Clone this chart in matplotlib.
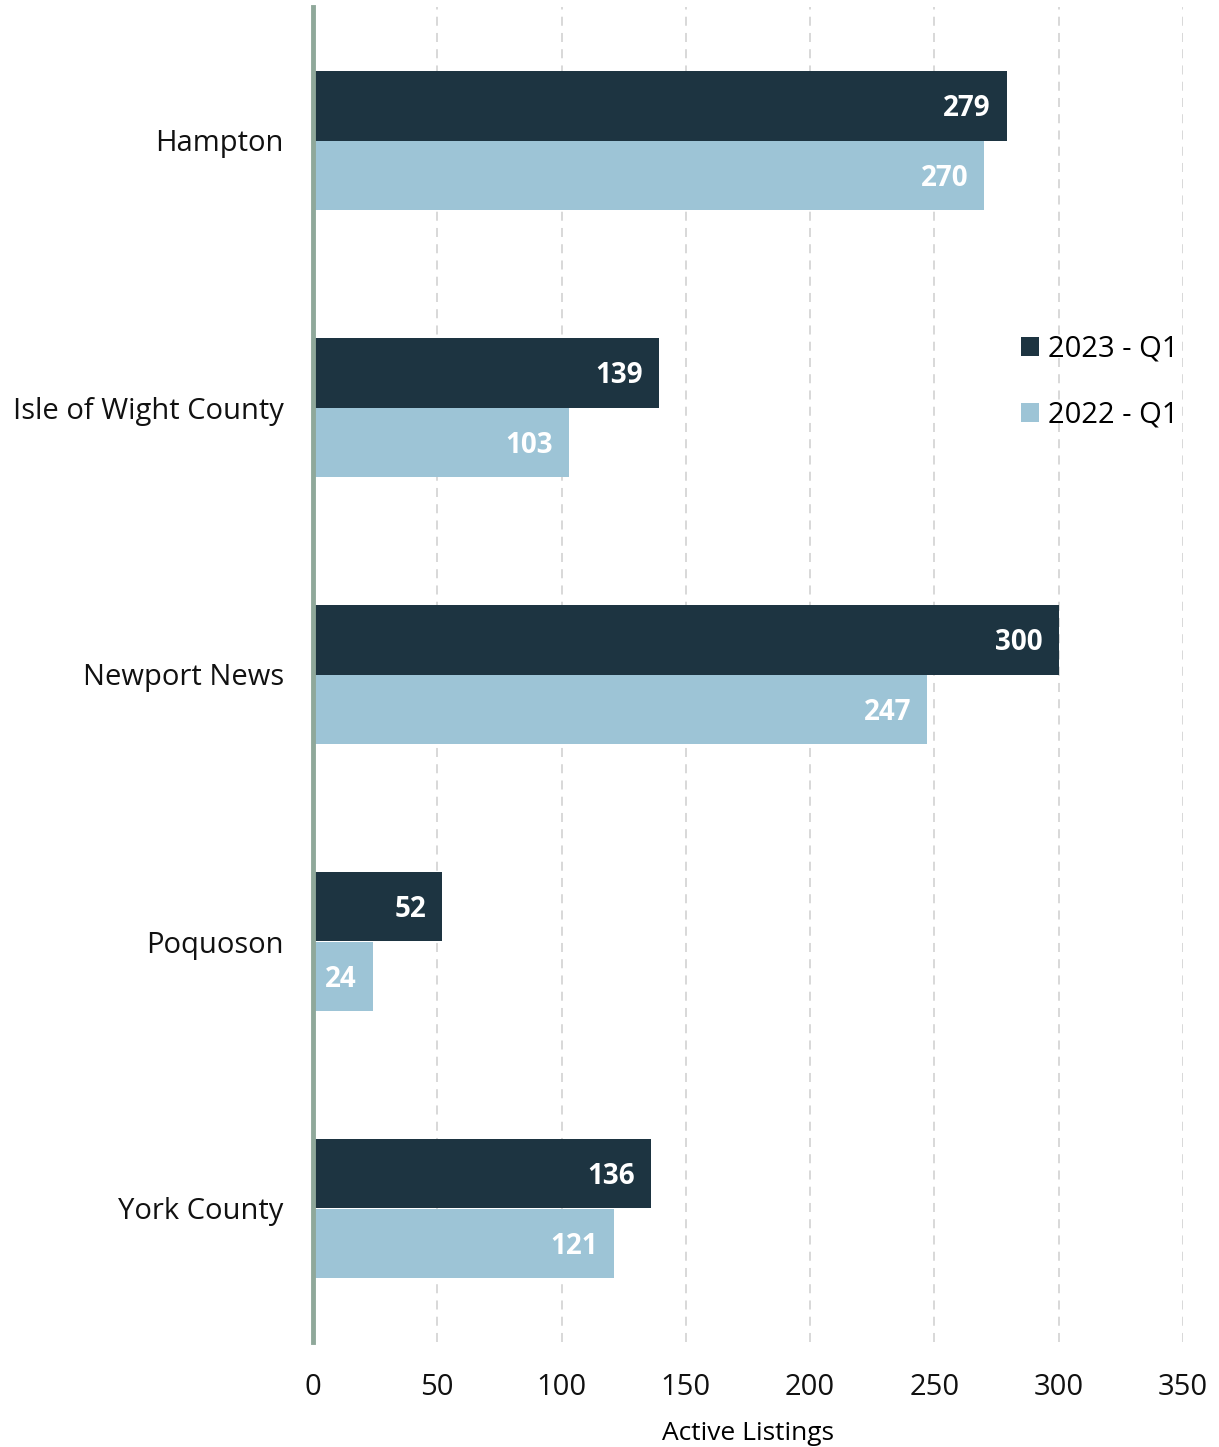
import matplotlib
matplotlib.use("Agg")
import matplotlib.pyplot as plt
import numpy as np

plt.rcParams['font.family'] = ['Open Sans', 'DejaVu Sans']

categories = ["Hampton", "Isle of Wight County", "Newport News", "Poquoson", "York County"]
q1_2023 = [279, 139, 300, 52, 136]
q1_2022 = [270, 103, 247, 24, 121]
series_labels = ["2023 - Q1", "2022 - Q1"]
xticks = [0, 50, 100, 150, 200, 250, 300, 350]

dark = "#1d3441"
light = "#9dc4d6"

fig = plt.figure(figsize=(12.19, 14.47), dpi=100)
ax = fig.add_axes([313/1219, 1 - 1342/1447, 870/1219, 1335/1447])

y = np.arange(len(categories))
h = 0.262
b1 = ax.barh(y - h/2, q1_2023, height=h, color=dark, label=series_labels[0])
b2 = ax.barh(y + h/2, q1_2022, height=h, color=light, label=series_labels[1])

for offs, vals in ((-h/2, q1_2023), (h/2, q1_2022)):
    for yi, v in zip(y, vals):
        ax.annotate(str(v), xy=(v, yi + offs), xytext=(-11.5, -2.2),
                    textcoords="offset points", ha="right", va="center",
                    color="white", fontweight="bold", fontsize=20)

ax.set_ylim(len(categories) - 0.5, -0.5)
ax.set_xlim(0, 350)
ax.set_yticks(y)
ax.set_yticklabels(categories, fontsize=21)
ax.set_xticks(xticks)
ax.set_xticklabels([str(t) for t in xticks], fontsize=21)
ax.tick_params(axis='both', length=0, colors="#111111")
ax.tick_params(axis='y', pad=21)
ax.tick_params(axis='x', pad=22)
ax.set_xlabel("Active Listings", fontsize=19, va="center")
ax.xaxis.set_label_coords(435/870, -(1433 - 1342)/1335)

ax.grid(axis='x', color="#d5d5d5", linestyle=(0, (5, 4)), linewidth=1.3)
ax.set_axisbelow(True)
for s in ("top", "right", "bottom"):
    ax.spines[s].set_visible(False)
ax.spines["left"].set_color("#8fa89a")
ax.spines["left"].set_linewidth(3.5)
ax.spines["left"].set_zorder(5)

leg = ax.legend(loc="upper left", bbox_to_anchor=(1012/1219, 1 - 326/1447),
                bbox_transform=fig.transFigure, frameon=False, fontsize=21,
                handlelength=0.62, handleheight=0.62, handletextpad=0.3,
                labelspacing=1.26, borderaxespad=0, borderpad=0.3)

fig.savefig("out.png", dpi=100)
